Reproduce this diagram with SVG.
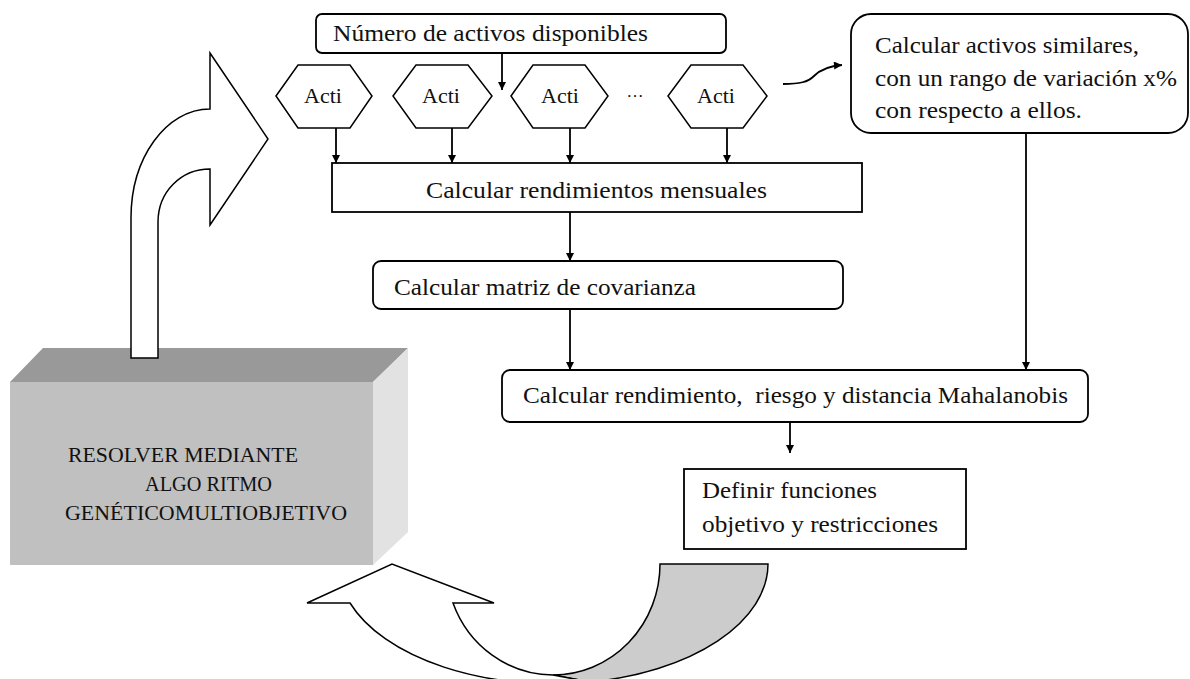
<svg xmlns="http://www.w3.org/2000/svg" width="1190" height="679" viewBox="0 0 1190 679">
  <defs>
    <style>
      .txt { font-family: "Liberation Serif", "DejaVu Serif", serif; font-size: 23px; fill: #111; }
      .caps { font-size: 22px; }
      .box { fill: #fff; stroke: #000; stroke-width: 1.8; }
      .hex { fill: #fff; stroke: #000; stroke-width: 1.5; }
      .link { fill: none; stroke: #000; stroke-width: 1.8; marker-end: url(#ah); }
      .bigarrow { stroke: #000; stroke-width: 1.5; stroke-linejoin: miter; }
    </style>
    <marker id="ah" viewBox="0 0 10 10" refX="10" refY="5" markerWidth="11" markerHeight="8" orient="auto" markerUnits="userSpaceOnUse">
      <path d="M0,0 L10,5 L0,10 Z" fill="#000"/>
    </marker>
  </defs>

  <rect width="1190" height="679" fill="#fff"/>

  <!-- 3D block: genetic algorithm -->
  <g id="algoritmo">
    <polygon points="10,382 43,348 408,348 373,382" fill="#999999"/>
    <rect x="10" y="382" width="363" height="183" fill="#c0c0c0"/>
    <polygon points="373,382 408,348 408,532 373,565" fill="#e2e2e2"/>
    <text class="txt caps" x="68" y="462" textLength="230" lengthAdjust="spacingAndGlyphs">RESOLVER MEDIANTE</text>
    <text class="txt caps" x="145" y="491" textLength="127" lengthAdjust="spacingAndGlyphs">ALGO RITMO</text>
    <text class="txt caps" x="65" y="520" textLength="282" lengthAdjust="spacingAndGlyphs">GENÉTICOMULTIOBJETIVO</text>
  </g>

  <!-- bent block arrow rising from the block -->
  <g id="flecha-subida">
    <path class="bigarrow" fill="#fff" d="M131,358 L131,218 C131,158 166,109 210,109 L210,53 L268,139 L210,225 L210,169 C181,169 158,192 158,222 L158,358 Z"/>
  </g>

  <!-- circular return arrow at the bottom -->
  <g id="flecha-retorno">
    <path class="bigarrow" fill="#cccccc" d="M660,564 A107,111 0 0 1 553,675 L590,682 A215,120 0 0 0 768,564 Z"/>
    <path class="bigarrow" fill="#fff" d="M494,603 L392,564 L307,603 L350,603 A215,120 0 0 0 590,682 L553,675 A107,111 0 0 1 453,603 Z"/>
  </g>

  <g id="num-activos">
    <rect class="box" x="316" y="14" width="410" height="39" rx="6"/>
    <text class="txt" x="333" y="41" textLength="315" lengthAdjust="spacingAndGlyphs">Número de activos disponibles</text>
  </g>

  <g id="acti-1">
    <polygon class="hex" points="276,96 298,65 350,65 372,96 350,128 298,128"/>
    <text class="txt caps" x="323" y="103" text-anchor="middle">Acti</text>
  </g>
  <g id="acti-2">
    <polygon class="hex" points="393,96 416,65 468,65 492,96 468,128 416,128"/>
    <text class="txt caps" x="441" y="103" text-anchor="middle">Acti</text>
  </g>
  <g id="acti-3">
    <polygon class="hex" points="511,96 533,65 585,65 608,96 585,128 533,128"/>
    <text class="txt caps" x="560" y="103" text-anchor="middle">Acti</text>
  </g>
  <text class="txt" x="635" y="97" text-anchor="middle" style="font-size:17px">…</text>
  <g id="acti-4">
    <polygon class="hex" points="668,96 691,65 743,65 767,96 743,128 691,128"/>
    <text class="txt caps" x="716" y="103" text-anchor="middle">Acti</text>
  </g>

  <g id="similares">
    <rect class="box" x="851" y="14" width="337" height="119" rx="20"/>
    <text class="txt" x="875" y="53" textLength="264" lengthAdjust="spacingAndGlyphs">Calcular activos similares,</text>
    <text class="txt" x="875" y="86" textLength="302" lengthAdjust="spacingAndGlyphs">con un rango de variación x%</text>
    <text class="txt" x="875" y="118" textLength="207" lengthAdjust="spacingAndGlyphs">con respecto a ellos.</text>
  </g>

  <g id="rendimientos">
    <rect class="box" x="332" y="163" width="530" height="49"/>
    <text class="txt" x="426" y="198" textLength="341" lengthAdjust="spacingAndGlyphs">Calcular rendimientos mensuales</text>
  </g>

  <g id="covarianza">
    <rect class="box" x="373" y="261" width="470" height="48" rx="8"/>
    <text class="txt" x="394" y="295" textLength="302" lengthAdjust="spacingAndGlyphs">Calcular matriz de covarianza</text>
  </g>

  <g id="mahalanobis">
    <rect class="box" x="502" y="370" width="586" height="52" rx="8"/>
    <text class="txt" x="523" y="403" textLength="545" lengthAdjust="spacingAndGlyphs" xml:space="preserve">Calcular rendimiento,  riesgo y distancia Mahalanobis</text>
  </g>

  <g id="funciones">
    <rect class="box" x="684" y="469" width="282" height="80"/>
    <text class="txt" x="702" y="498" textLength="175" lengthAdjust="spacingAndGlyphs">Definir funciones</text>
    <text class="txt" x="702" y="532" textLength="236" lengthAdjust="spacingAndGlyphs">objetivo y restricciones</text>
  </g>

  <!-- connectors -->
  <g id="conectores">
    <path class="link" d="M502,53 L502,90"/>
    <path class="link" d="M336,128 L336,163"/>
    <path class="link" d="M452,128 L452,163"/>
    <path class="link" d="M570,128 L570,163"/>
    <path class="link" d="M727,128 L727,163"/>
    <path class="link" d="M783,84 C800,84 808,82 814,76 C820,70 828,66 842,65"/>
    <path class="link" d="M570,212 L570,261"/>
    <path class="link" d="M570,309 L570,370"/>
    <path class="link" d="M1026,133 L1026,370"/>
    <path class="link" d="M790,422 L790,453"/>
  </g>
</svg>
